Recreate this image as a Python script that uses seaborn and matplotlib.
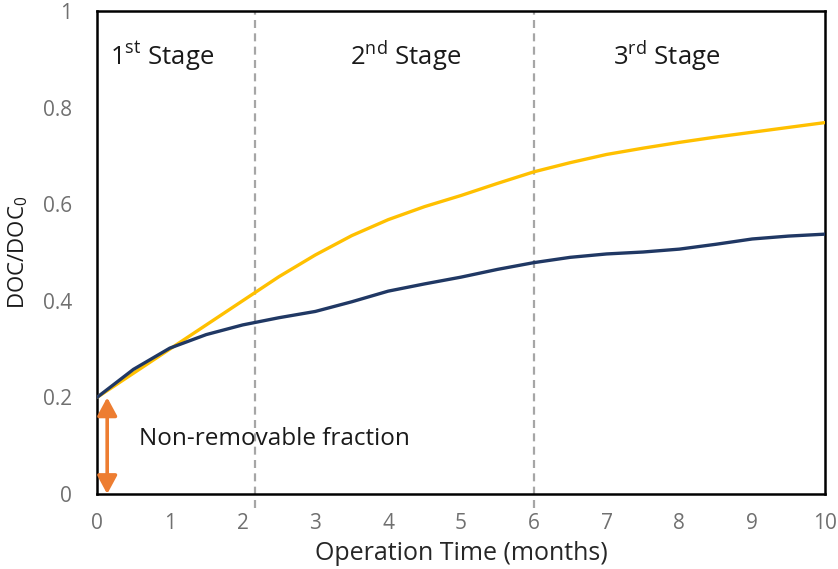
import numpy as np
import pandas as pd
import matplotlib
matplotlib.use("Agg")
import matplotlib.pyplot as plt
import seaborn as sns

# ---- data ----
time_months = [0, 0.5, 1, 1.5, 2, 2.5, 3, 3.5, 4, 4.5, 5, 5.5, 6, 6.5, 7, 7.5, 8, 8.5, 9, 9.5, 10]
doc_yellow = [0.20, 0.25, 0.30, 0.35, 0.40, 0.45, 0.495, 0.535, 0.568, 0.595, 0.618,
              0.643, 0.667, 0.686, 0.703, 0.716, 0.728, 0.739, 0.749, 0.759, 0.769]
doc_navy = [0.20, 0.258, 0.302, 0.33, 0.35, 0.365, 0.378, 0.398, 0.42, 0.435, 0.449,
            0.465, 0.479, 0.49, 0.497, 0.501, 0.507, 0.517, 0.528, 0.534, 0.538]
stage_bounds = [2.17, 6.0]
stage_labels = ["1$^{\\mathrm{st}}$ Stage", "2$^{\\mathrm{nd}}$ Stage", "3$^{\\mathrm{rd}}$ Stage"]
stage_label_x = [0.18, 3.47, 7.09]
nonremovable = 0.20
x_ticks = list(range(0, 11))
y_ticks = [0, 0.2, 0.4, 0.6, 0.8, 1.0]
y_ticklabels = ["0", "0.2", "0.4", "0.6", "0.8", "1"]

df = pd.DataFrame({
    "time": time_months * 2,
    "doc": doc_yellow + doc_navy,
    "series": ["A"] * len(time_months) + ["B"] * len(time_months),
})

sns.set_theme(style="white")
plt.rcParams["font.family"] = ["Open Sans", "DejaVu Sans"]
plt.rcParams["mathtext.fontset"] = "custom"
plt.rcParams["mathtext.rm"] = "Open Sans"

fig = plt.figure(figsize=(8.38, 5.69), dpi=100)
ax = fig.add_axes([97 / 838, 1 - 494 / 569, (825 - 97) / 838, (494 - 11) / 569])

sns.lineplot(data=df, x="time", y="doc", hue="series",
             palette={"A": "#FFC000", "B": "#203864"},
             linewidth=2.4, legend=False, ax=ax, zorder=3)

ax.set_xlim(0, 10)
ax.set_ylim(0, 1)
ax.set_xticks(x_ticks)
ax.set_xticklabels([str(t) for t in x_ticks])
ax.set_yticks(y_ticks)
ax.set_yticklabels(y_ticklabels)
ax.tick_params(axis="both", length=0, labelsize=15, labelcolor="#707070")
ax.tick_params(axis="y", pad=18)
ax.tick_params(axis="x", pad=14)

for s in ax.spines.values():
    s.set_color("black")
    s.set_linewidth(1.8)
    s.set_visible(True)

for xb in stage_bounds:
    ax.plot([xb, xb], [-0.028, 0.998], color="#A6A6A6", linewidth=1.6,
            linestyle=(0, (3.6, 2.4)), clip_on=False, zorder=2)

for lab, lx in zip(stage_labels, stage_label_x):
    ax.text(lx, 0.907, lab, fontsize=18.5, color="#1a1a1a", ha="left", va="center")

ax.annotate("", xy=(0.14, 0.0), xytext=(0.14, nonremovable),
            arrowprops=dict(arrowstyle="<|-|>,head_length=0.5,head_width=0.27",
                            color="#ED7D31", lw=2.6,
                            mutation_scale=22, shrinkA=0, shrinkB=0), zorder=4)
ax.text(0.58, 0.114, "Non-removable fraction", fontsize=17.5, color="#1a1a1a",
        ha="left", va="center")

ax.set_xlabel("Operation Time (months)", fontsize=18, color="#262626", labelpad=5)
ax.set_ylabel("DOC/DOC$_{\\mathrm{0}}$", fontsize=16, color="#1a1a1a", labelpad=9)

fig.savefig("out.png", dpi=100)
